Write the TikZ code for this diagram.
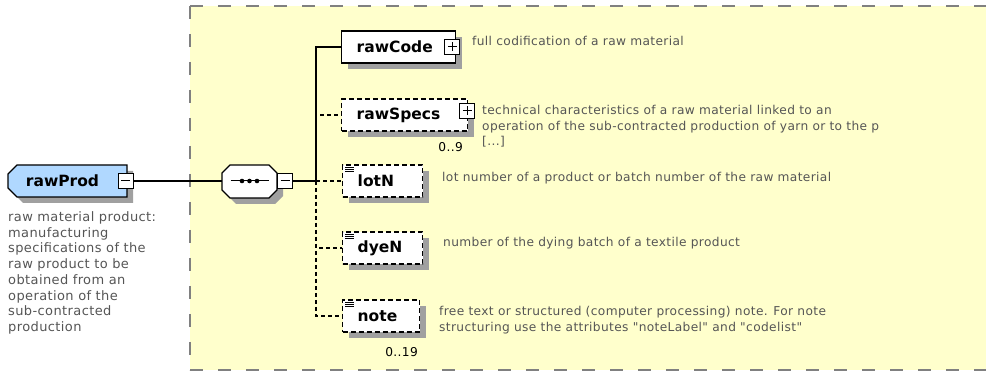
\documentclass[tikz,border=0pt]{standalone}
\usepackage{fontspec}
\setmainfont{DejaVu Sans}
\newfontfamily\descfamily[LetterSpace=3]{DejaVu Sans}
\usetikzlibrary{shadows}

\definecolor{bgyellow}{RGB}{255,255,204}
\definecolor{framegray}{RGB}{128,128,128}
\definecolor{shadowgray}{RGB}{160,160,160}
\definecolor{descgray}{RGB}{85,85,85}
\definecolor{rootblue}{RGB}{176,216,255}

\newcommand{\descfont}{\descfamily\fontsize{12.2}{15.2}\selectfont}
\newcommand{\rootdescfont}{\descfamily\fontsize{13}{15.7}\selectfont}
\newcommand{\lblfont}{\fontsize{15.5}{18}\selectfont\bfseries}

\tikzset{
	shade6/.style={drop shadow={shadow xshift=6pt, shadow yshift=-6pt, fill=shadowgray, opacity=1}},
	elem/.style={draw=black, line width=1.4pt, fill=white, minimum height=32pt, inner xsep=15pt, inner ysep=0pt, align=left, anchor=west, font=\lblfont, shade6},
	optelem/.style={elem, dash pattern=on 5pt off 3pt},
	minusbox/.style={draw=black, fill=white, line width=1pt, minimum width=15pt, minimum height=15pt, inner sep=0pt,
		path picture={\draw[line width=1pt] ([xshift=3pt]path picture bounding box.west) -- ([xshift=-3pt]path picture bounding box.east);}},
	plusbox/.style={draw=black, fill=white, line width=1pt, minimum width=15pt, minimum height=15pt, inner sep=0pt,
		path picture={\draw[line width=1pt] ([xshift=3pt]path picture bounding box.west) -- ([xshift=-3pt]path picture bounding box.east);
			\draw[line width=1pt] ([yshift=-3pt]path picture bounding box.north) -- ([yshift=3pt]path picture bounding box.south);}},
	desc/.style={text=descgray, font=\descfont, align=left, inner sep=0pt},
	mult/.style={text=black, font=\descfont, inner sep=0pt},
	conn/.style={line width=1.3pt, draw=black},
	optconn/.style={conn, dash pattern=on 4pt off 3pt},
	frame/.style={line width=2pt, draw=framegray, dash pattern=on 13pt off 15pt}
}

\begin{document}
\begin{tikzpicture}[x=1pt,y=-1pt]
			%%%%% START %%%%%
			\useasboundingbox (0,0) rectangle (986,371);
			
			\fill[bgyellow] (190,6) rectangle (986,370);
			\draw[frame] (190,6) -- (986,6);
			\draw[frame] (190,6) -- (190,370);
			\draw[frame] (190,370) -- (986,370);
			
			% root element
			\draw[line width=1.4pt, fill=rootblue, shade6] (8,174) -- (17,165) -- (127,165) -- (127,197) -- (17,197) -- (8,188) -- cycle;
			\node[font=\lblfont, inner sep=0pt] (rawProd) at (62.5,181) {rawProd};
			\node[minusbox] (rawProd-m) at (125.5,181) {};
			\node[desc, font=\rootdescfont, anchor=north west] (rawProd-d) at (8,211.5) {raw material product:\\manufacturing\\specifications of the\\raw product to be\\obtained from an\\operation of the\\sub-contracted\\production};
			
			% sequence
			\draw[line width=1.4pt, fill=white, shade6] (222,173) -- (230,165) -- (269,165) -- (277,173) -- (277,190) -- (269,198) -- (230,198) -- (222,190) -- cycle;
			\node[minimum width=55pt, minimum height=33pt, inner sep=0pt] (seq) at (249.5,181) {};
			\draw[line width=1pt] ([xshift=-19pt]seq.center) -- ([xshift=19pt]seq.center);
			\foreach \dx in {-7.5,0,7.5}
				\fill ([xshift=\dx pt]seq.center) circle (2.3pt);
			\node[minusbox, anchor=west] (seq-m) at (seq.east) {};
			
			% children
			\node[elem, text width=84pt] (rawCode) at (341,47) {rawCode};
			\node[plusbox] (rawCode-p) at ([xshift=-4pt]rawCode.east) {};
			
			\node[optelem, text width=96pt] (rawSpecs) at (341,115) {rawSpecs};
			\node[plusbox] (rawSpecs-p) at ([xshift=-1pt,yshift=4pt]rawSpecs.east) {};
			\node[mult, anchor=base east] (rawSpecs-n) at (463,152) {0..9};
			
			\node[optelem, text width=50pt] (lotN) at (342,181) {lotN};
			\node[optelem, text width=50pt] (dyeN) at (342,248) {dyeN};
			\node[optelem, text width=47pt] (note) at (342,316) {note};
			\node[mult, anchor=base east] (note-n) at (418,357) {0..19};
			
			% simple content marks
			\foreach \n in {lotN,dyeN,note}
				\foreach \k in {0,1,2}
					\draw[line width=0.8pt] ([xshift=3pt,yshift=-3-2.2*\k pt]\n.north west) -- ++(9,0);
			
			% connectors
			\coordinate (bus) at (316,181);
			\draw[conn] (rawProd-m) -- (seq);
			\draw[conn] (seq-m) -- (bus);
			\draw[conn] (bus) |- (rawCode);
			\draw[optconn] (bus) |- (rawSpecs);
			\draw[optconn] (bus) -- (lotN);
			\draw[optconn] (bus) |- (dyeN);
			\draw[optconn] (bus) |- (note);
			
			% annotations
			\node[desc, anchor=base west] (rawCode-d) at (472,46) {full codification of a raw material};
			\node[desc, anchor=north west] (rawSpecs-d) at (482,105.5) {technical characteristics of a raw material linked to an\\operation of the sub-contracted production of yarn or to the p\\{}[...]};
			\node[desc, anchor=base west] (lotN-d) at (442,182) {lot number of a product or batch number of the raw material};
			\node[desc, anchor=base west] (dyeN-d) at (443,247) {number of the dying batch of a textile product};
			\node[desc, anchor=north west] (note-d) at (439,306.5) {free text or structured (computer processing) note. For note\\structuring use the attributes "noteLabel" and "codelist"};
			
			%%%%% END %%%%%
\end{tikzpicture}
\end{document}
